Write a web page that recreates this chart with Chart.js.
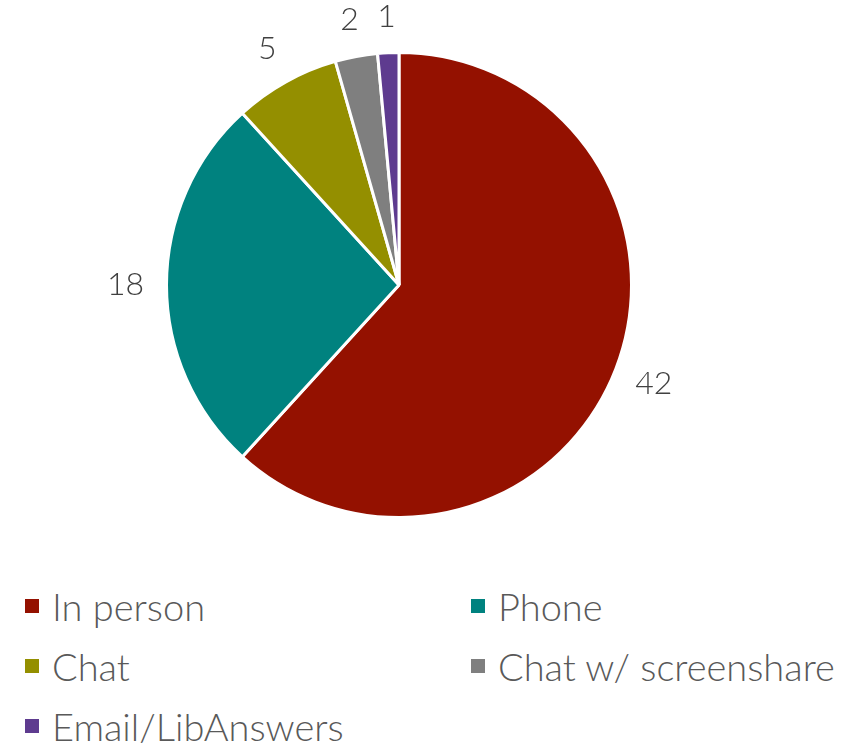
<!DOCTYPE html>
<html>
<head>
<meta charset="utf-8">
<script src="https://cdn.jsdelivr.net/npm/chart.js@4/dist/chart.umd.min.js"></script>
<style>
    body { margin: 0; background: #fff; font-family: Lato, sans-serif; }
    #wrap { position: relative; width: 861px; height: 745px; }
    #chartBox { position: absolute; left: 0; top: 0; width: 861px; height: 570px; }
    #legend { position: absolute; left: 25px; top: 582px; display: grid;
        grid-template-columns: 446px 400px; row-gap: 13px; }
    .item { display: flex; align-items: center; height: 47px; font-size: 38px; font-weight: 300; color: #595959; }
    .box { width: 14px; height: 14px; margin-right: 13px; flex: none; }
</style>
</head>
<body>
<div id="wrap">
    <div id="chartBox"><canvas id="pie"></canvas></div>
    <div id="legend"></div>
</div>
<script>
const labels = ["In person", "Phone", "Chat", "Chat w/ screenshare", "Email/LibAnswers"];
const values = [42, 18, 5, 2, 1];
const colors = ["#941100", "#00827f", "#948f00", "#7f7f7f", "#5e3b8f"];

document.addEventListener("DOMContentLoaded", () => {
    // legend in two columns
    const legend = document.getElementById("legend");
    labels.forEach((name, i) => {
        const item = document.createElement("div");
        item.className = "item";
        item.innerHTML = '<span class="box" style="background:' + colors[i] + '"></span>' + name;
        legend.appendChild(item);
    });

    // value labels just outside the slices
    const outsideLabels = {
        id: "outsideLabels",
        afterDatasetsDraw(chart) {
            const ctx = chart.ctx;
            const meta = chart.getDatasetMeta(0);
            ctx.save();
            ctx.font = "300 32px Lato, sans-serif";
            ctx.fillStyle = "#404040";
            ctx.textAlign = "center";
            ctx.textBaseline = "middle";
            meta.data.forEach((arc, i) => {
                const mid = (arc.startAngle + arc.endAngle) / 2;
                const r = arc.outerRadius + 36 + 5 * Math.abs(Math.cos(mid));
                ctx.fillText(values[i], arc.x + Math.cos(mid) * r, arc.y + Math.sin(mid) * r);
            });
            ctx.restore();
        }
    };

    const ctx = document.getElementById("pie").getContext("2d");
    new Chart(ctx, {
        type: "pie",
        data: {
            labels: labels,
            datasets: [{
                data: values,
                backgroundColor: colors,
                borderColor: "#ffffff",
                borderWidth: 3
            }]
        },
        options: {
            responsive: true,
            maintainAspectRatio: false,
            animation: false,
            layout: { padding: { top: 51, bottom: 51, left: 0, right: 63 } },
            plugins: {
                legend: { display: false },
                tooltip: { enabled: false }
            }
        },
        plugins: [outsideLabels]
    });
});
</script>
</body>
</html>
